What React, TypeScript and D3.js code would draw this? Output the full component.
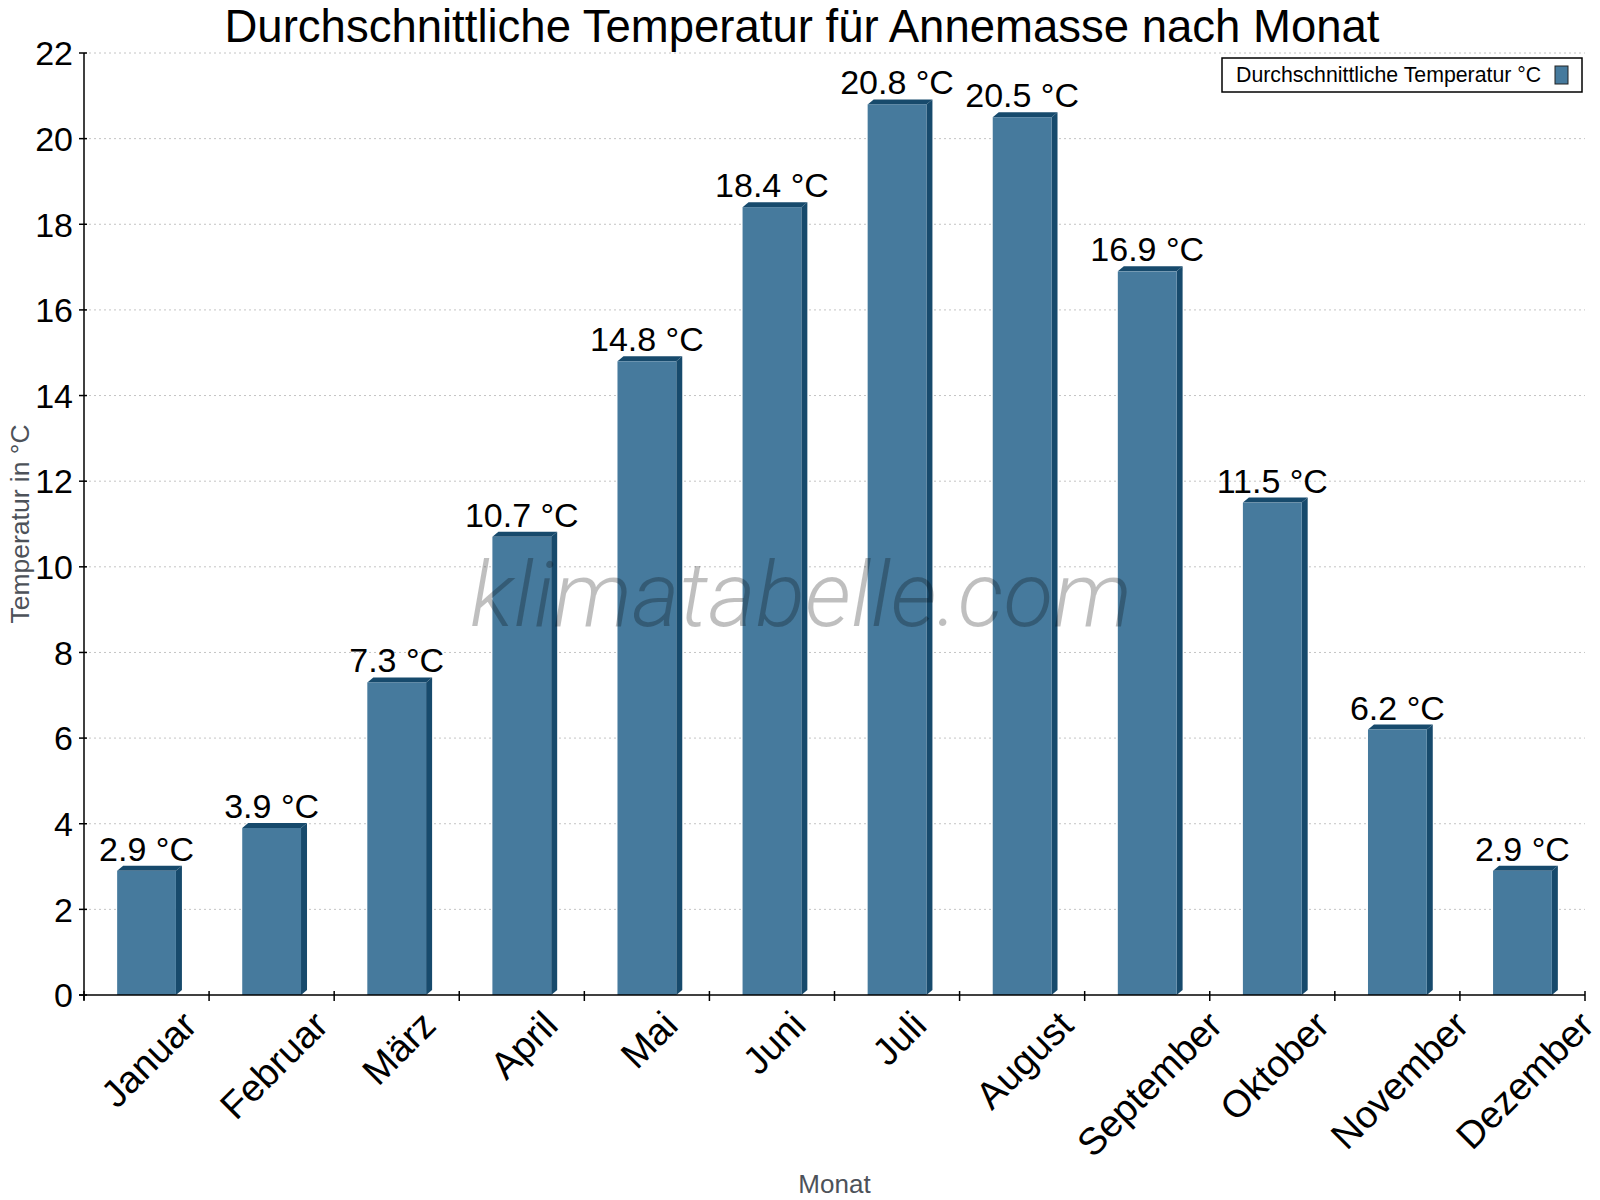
import { useEffect, useRef } from 'react'
import * as d3 from 'd3'

const WIDTH = 1600
const HEIGHT = 1200
const MARGIN = { top: 53, right: 15, bottom: 205, left: 84 }
const FONT = '"Liberation Sans", Arial, sans-serif'

const MONTHS = ['Januar', 'Februar', 'März', 'April', 'Mai', 'Juni', 'Juli', 'August', 'September', 'Oktober', 'November', 'Dezember']
const TEMPERATURES = [2.9, 3.9, 7.3, 10.7, 14.8, 18.4, 20.8, 20.5, 16.9, 11.5, 6.2, 2.9]
const Y_TICKS = [0, 2, 4, 6, 8, 10, 12, 14, 16, 18, 20, 22]

const FRONT = '#467a9d'
const DARK = '#174a6c'
const DEPTH = { dx: 6, dy: 5 }
const MONTH_FONT = 38

export default function App() {
  const svgRef = useRef<SVGSVGElement>(null)

  useEffect(() => {
    const svgEl = svgRef.current
    if (!svgEl) return

    const svg = d3.select(svgEl)
    svg.selectAll('*').remove()

    const innerWidth = WIDTH - MARGIN.left - MARGIN.right
    const innerHeight = HEIGHT - MARGIN.top - MARGIN.bottom
    const g = svg.append('g').attr('transform', `translate(${MARGIN.left},${MARGIN.top})`)

    // ── Scales ──────────────────────────────────────────────────────────────────
    const x = d3.scaleBand<string>().domain(MONTHS).range([0, innerWidth]).paddingInner(0).paddingOuter(0)
    const y = d3.scaleLinear([0, 22], [innerHeight, 0])
    const bw = x.bandwidth()
    const fw = bw * 0.47

    // ── Title ───────────────────────────────────────────────────────────────────
    svg.append('text')
      .attr('x', 802).attr('y', 42)
      .attr('text-anchor', 'middle').attr('font-size', 45.5).attr('fill', '#000')
      .attr('font-family', FONT)
      .text('Durchschnittliche Temperatur für Annemasse nach Monat')

    // ── Grid ────────────────────────────────────────────────────────────────────
    g.append('g')
      .selectAll('line')
      .data(Y_TICKS.filter(d => d > 0))
      .join('line')
      .attr('x1', 0).attr('x2', innerWidth)
      .attr('y1', d => y(d)).attr('y2', d => y(d))
      .attr('stroke', '#c4c4c4').attr('stroke-width', 1).attr('stroke-dasharray', '2,3')

    // ── Bars (pseudo 3D) ────────────────────────────────────────────────────────
    const bars = g.append('g')
    MONTHS.forEach((m, i) => {
      const v = TEMPERATURES[i]
      const cx = x(m)! + bw / 2
      const x0 = cx - fw / 2
      const x1 = cx + fw / 2
      const yt = y(v)
      const yb = y(0)
      bars.append('polygon')
        .attr('points', [[x1, yt], [x1 + DEPTH.dx, yt - DEPTH.dy], [x1 + DEPTH.dx, yb - DEPTH.dy], [x1, yb]].join(' '))
        .attr('fill', DARK)
      bars.append('polygon')
        .attr('points', [[x0, yt], [x0 + DEPTH.dx, yt - DEPTH.dy], [x1 + DEPTH.dx, yt - DEPTH.dy], [x1, yt]].join(' '))
        .attr('fill', DARK)
      bars.append('rect')
        .attr('x', x0).attr('y', yt).attr('width', fw).attr('height', yb - yt)
        .attr('fill', FRONT)
      bars.append('text')
        .attr('x', cx).attr('y', yt - 10)
        .attr('text-anchor', 'middle').attr('font-size', 34).attr('fill', '#000')
        .attr('font-family', FONT)
        .text(`${v.toFixed(1)} °C`)
    })

    // ── Axes ────────────────────────────────────────────────────────────────────
    const axis = g.append('g').attr('stroke', '#000').attr('stroke-width', 1.5)
    axis.append('line').attr('x1', 0).attr('x2', 0).attr('y1', 0).attr('y2', innerHeight + 5)
    axis.append('line').attr('x1', -5).attr('x2', innerWidth).attr('y1', innerHeight).attr('y2', innerHeight)

    axis.selectAll('line.ytick')
      .data(Y_TICKS)
      .join('line').attr('class', 'ytick')
      .attr('x1', -5).attr('x2', 3)
      .attr('y1', d => y(d)).attr('y2', d => y(d))

    const xBounds = [...MONTHS.map(m => x(m)!), innerWidth]
    axis.selectAll('line.xtick')
      .data(xBounds)
      .join('line').attr('class', 'xtick')
      .attr('x1', d => d).attr('x2', d => d)
      .attr('y1', innerHeight - 4).attr('y2', innerHeight + 6)

    g.append('g')
      .selectAll('text')
      .data(Y_TICKS)
      .join('text')
      .attr('x', -11).attr('y', d => y(d)).attr('dy', '0.36em')
      .attr('text-anchor', 'end').attr('font-size', 34).attr('fill', '#000')
      .attr('font-family', FONT)
      .text(d => d)

    // month labels: rotated about their centre, box top just under the axis
    const labelTop = innerHeight + 13
    g.append('g')
      .selectAll('text')
      .data(MONTHS)
      .join('text')
      .attr('text-anchor', 'middle').attr('dy', '0.35em')
      .attr('font-size', MONTH_FONT).attr('fill', '#000')
      .attr('font-family', FONT)
      .text(m => m)
      .each(function (m) {
        const len = (this as SVGTextElement).getComputedTextLength()
        const half = (len + MONTH_FONT * 0.75) * Math.SQRT1_2 / 2
        d3.select(this).attr('transform', `translate(${x(m)! + bw / 2 + 2},${labelTop + half}) rotate(-45)`)
      })

    // ── Axis titles ─────────────────────────────────────────────────────────────
    svg.append('text')
      .attr('transform', `translate(29,${MARGIN.top + innerHeight / 2}) rotate(-90)`)
      .attr('text-anchor', 'middle').attr('font-size', 26.5).attr('fill', '#4d5259')
      .attr('font-family', FONT)
      .text('Temperatur in °C')

    svg.append('text')
      .attr('x', MARGIN.left + innerWidth / 2).attr('y', 1193)
      .attr('text-anchor', 'middle').attr('font-size', 26).attr('fill', '#4d5259')
      .attr('font-family', FONT)
      .text('Monat')

    // ── Legend ──────────────────────────────────────────────────────────────────
    const legend = svg.append('g')
    legend.append('rect')
      .attr('x', 1222).attr('y', 58).attr('width', 360).attr('height', 34)
      .attr('fill', '#fff').attr('stroke', '#000').attr('stroke-width', 1.5)
    legend.append('text')
      .attr('x', 1236).attr('y', 82)
      .attr('font-size', 21.3).attr('fill', '#000').attr('font-family', FONT)
      .text('Durchschnittliche Temperatur °C')
    legend.append('rect')
      .attr('x', 1555).attr('y', 66).attr('width', 13).attr('height', 18)
      .attr('fill', FRONT).attr('stroke', '#222').attr('stroke-width', 1)

    // ── Watermark ───────────────────────────────────────────────────────────────
    svg.append('text')
      .attr('x', 801).attr('y', 626)
      .attr('text-anchor', 'middle').attr('font-size', 91.5)
      .attr('font-family', 'Roboto, sans-serif').attr('font-weight', 300).attr('font-style', 'italic')
      .attr('fill', '#000').attr('fill-opacity', 0.25)
      .text('klimatabelle.com')
  }, [])

  return (
    <svg
      ref={svgRef}
      width={WIDTH}
      height={HEIGHT}
      style={{ position: 'absolute', left: 0, top: 0, background: '#fff' }}
    />
  )
}
